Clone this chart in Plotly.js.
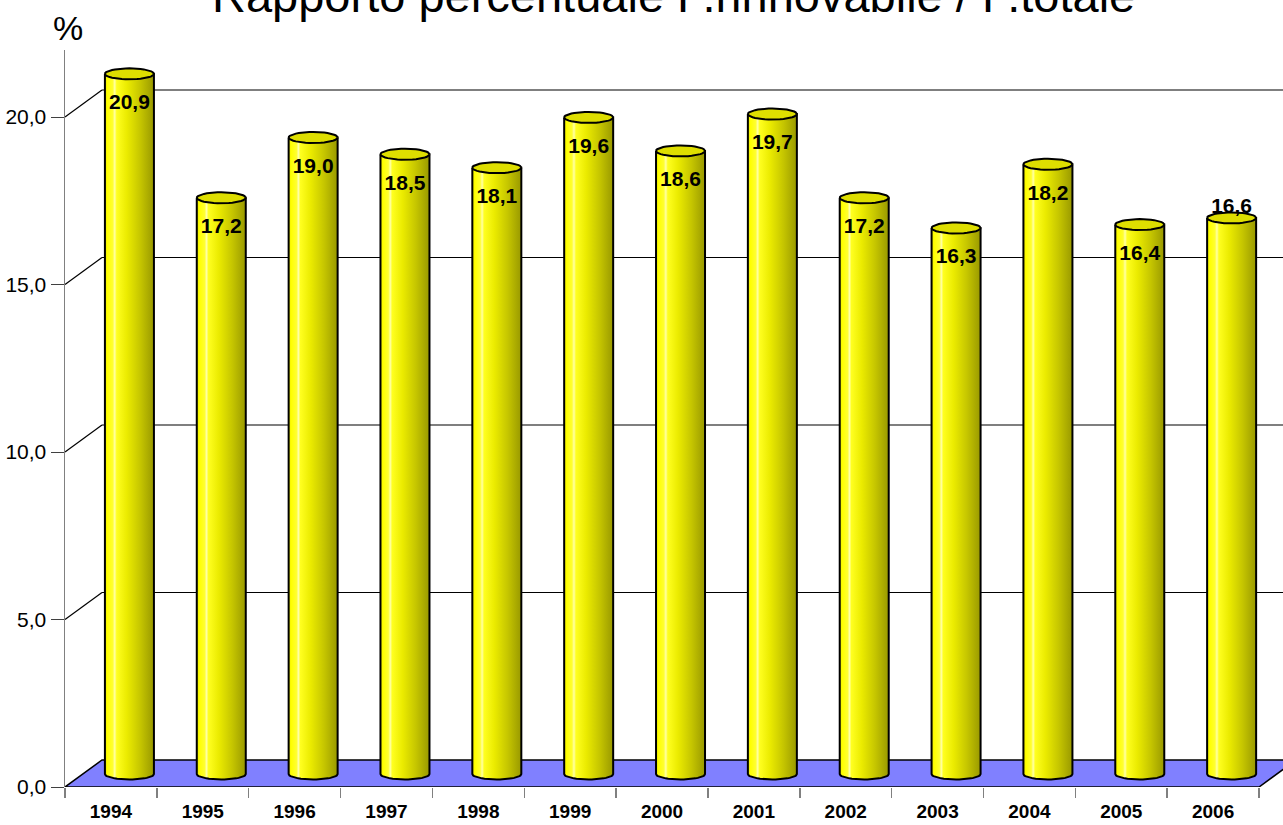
<!DOCTYPE html>
<html>
<head>
<meta charset="utf-8">
<script src="https://cdn.plot.ly/plotly-3.0.1.min.js"></script>
<style>html,body{margin:0;padding:0;background:#fff;}#chart{width:1283px;height:825px;}</style>
</head>
<body>
<div id="chart"></div>
<script>
// ---- data ----
const years = ['1994','1995','1996','1997','1998','1999','2000','2001','2002','2003','2004','2005','2006'];
const values = [20.9, 17.2, 19.0, 18.5, 18.1, 19.6, 18.6, 19.7, 17.2, 16.3, 18.2, 16.4, 16.6];
const yTickVals = [0, 5, 10, 15, 20];
const chartTitle = 'Rapporto percentuale P.rinnovabile / P.totale';
const yUnit = '%';

// ---- geometry (style) ----
const W = 1283, H = 825;
const M = {l: 65, r: 0, t: 50, b: 38};
const pxPerCat = 91.85, pxPerUnit = 33.5;
const plotW = W - M.l - M.r, plotH = H - M.t - M.b;
const xRange = [-0.5, -0.5 + plotW / pxPerCat];
const yRange = [0, plotH / pxPerUnit];
const DX = 37 / pxPerCat, DY = 27 / pxPerUnit;        // full depth offset (back wall)
const CX = DX / 2, CY = 13 / pxPerUnit;               // cylinder mid-depth offset
const RA = 24.5 / pxPerCat, RB = 5.5 / pxPerUnit;     // cylinder ellipse semi-axes
const N = years.length;
const font = 'Liberation Sans, Arial, Helvetica, sans-serif';

const grad = [[0,'#e6e600'],[0.05,'#ffff00'],[0.16,'#ffff30'],[0.2,'#ffffa8'],[0.24,'#ffff20'],
              [0.45,'#ebeb00'],[0.72,'#c6c600'],[1,'#999900']];

const traces = [];
values.forEach((v, i) => {
  const c = i + CX, base = CY, top = v + CY;
  const bx = [c - RA, c + RA, c + RA], by = [top, top, base];
  for (let k = 0; k <= 24; k++) {
    const th = -Math.PI * k / 24;
    bx.push(c + RA * Math.cos(th)); by.push(base + RB * Math.sin(th));
  }
  bx.push(c - RA); by.push(top);
  traces.push({type: 'scatter', mode: 'lines', x: bx, y: by, fill: 'toself',
    fillgradient: {type: 'horizontal', colorscale: grad},
    line: {color: '#000', width: 2}, hoverinfo: 'skip', showlegend: false});
  const tx = [], ty = [];
  for (let k = 0; k <= 40; k++) {
    const th = 2 * Math.PI * k / 40;
    tx.push(c + RA * Math.cos(th)); ty.push(top + RB * Math.sin(th));
  }
  traces.push({type: 'scatter', mode: 'lines', x: tx, y: ty, fill: 'toself',
    fillcolor: '#dede00', line: {color: '#000', width: 2}, hoverinfo: 'skip', showlegend: false});
});

// data labels
const lx = [], ly = [], lt = [];
values.forEach((v, i) => {
  lx.push(i + CX);
  const inside = i < N - 1;
  ly.push(inside ? v + CY - 0.9 : v + CY + 0.3);
  lt.push(v.toFixed(1).replace('.', ','));
});
traces.push({type: 'scatter', mode: 'text', x: lx, y: ly, text: lt, textposition: 'middle center',
  textfont: {family: font, size: 21, color: '#000', weight: 'bold'}, cliponaxis: false,
  hoverinfo: 'skip', showlegend: false});

// boundary-tick helper trace on xaxis2
traces.push({type: 'scatter', mode: 'markers', x: [0], y: [0], xaxis: 'x2', yaxis: 'y',
  marker: {opacity: 0}, hoverinfo: 'skip', showlegend: false});

// ---- shapes: floor and back-wall gridlines ----
const shapes = [];
shapes.push({type: 'path', layer: 'below', xref: 'x', yref: 'y',
  path: `M ${-0.5},0 L ${N - 0.5},0 L ${N - 0.5 + DX},${DY} L ${-0.5 + DX},${DY} Z`,
  fillcolor: '#8080ff', line: {color: '#000', width: 1.5}});
yTickVals.filter(v => v > 0).forEach(v => {
  shapes.push({type: 'line', layer: 'below', xref: 'x', yref: 'y',
    x0: -0.5, y0: v, x1: -0.5 + DX, y1: v + DY, line: {color: '#000', width: 1.2}});
  shapes.push({type: 'line', layer: 'below', xref: 'x', yref: 'y',
    x0: -0.5 + DX, y0: v + DY, x1: xRange[1] + 1, y1: v + DY, line: {color: '#000', width: 1.2}});
});

const layout = {
  width: W, height: H, autosize: false,
  margin: M, paper_bgcolor: '#fff', plot_bgcolor: 'rgba(0,0,0,0)',
  separators: ',.',
  showlegend: false,
  font: {family: font, color: '#000'},
  xaxis: {type: 'linear', range: xRange, tickvals: years.map((_, i) => i), ticktext: years,
    ticks: 'outside', ticklen: 7, tickcolor: 'rgba(0,0,0,0)', showgrid: false, zeroline: false,
    showline: false, tickfont: {family: font, size: 19, color: '#000', weight: 'bold'}, fixedrange: true},
  xaxis2: {type: 'linear', range: xRange, overlaying: 'x', anchor: 'y', side: 'bottom',
    tickvals: years.map((_, i) => i - 0.5).concat([N - 0.5]), ticks: 'outside', ticklen: 10,
    tickcolor: '#808080', tickwidth: 1.5, showticklabels: false, showgrid: false, zeroline: false, showline: false},
  yaxis: {range: yRange, tickvals: yTickVals, tickformat: '.1f', ticks: 'outside', ticklen: 13,
    tickcolor: '#404040', tickwidth: 1, showline: true, linecolor: '#808080', linewidth: 1.5,
    showgrid: false, zeroline: false, tickfont: {family: font, size: 21, color: '#000'}, fixedrange: true},
  shapes: shapes,
  annotations: [
    {text: chartTitle, xref: 'paper', yref: 'paper', x: (673 - M.l) / plotW, y: (H - M.b + 5) / plotH,
      xanchor: 'center', yanchor: 'middle', showarrow: false, font: {family: font, size: 47, color: '#000'}},
    {text: yUnit, xref: 'paper', yref: 'paper', x: (68 - M.l) / plotW, y: (H - M.b - 28) / plotH,
      xanchor: 'center', yanchor: 'middle', showarrow: false, font: {family: font, size: 34, color: '#000'}}
  ]
};

Plotly.newPlot('chart', traces, layout, {staticPlot: true, displayModeBar: false});
</script>
</body>
</html>
